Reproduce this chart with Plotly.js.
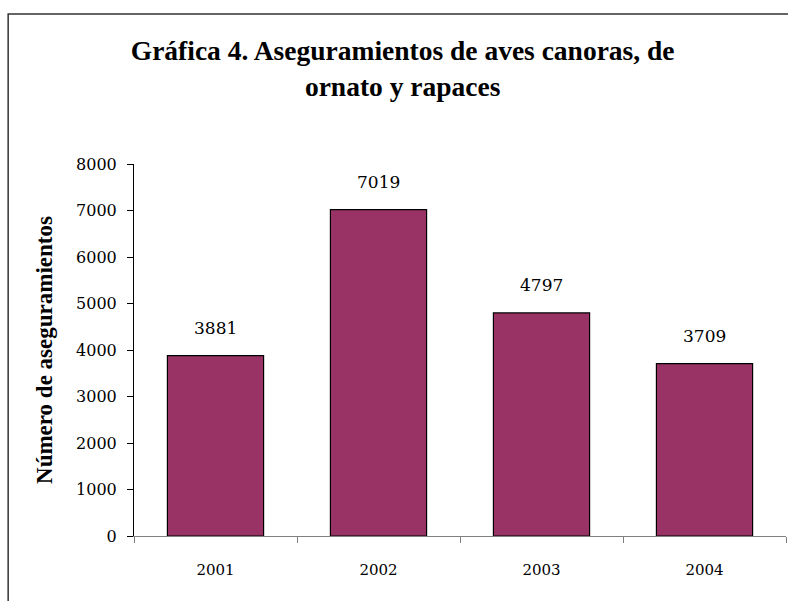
<!DOCTYPE html>
<html>
<head>
<meta charset="utf-8">
<script src="https://cdn.plot.ly/plotly-3.0.1.min.js"></script>
<style>html,body{margin:0;padding:0;background:#fff;}#chart{width:788px;height:601px;}</style>
</head>
<body>
<div id="chart"></div>
<script>
var years = ["2001", "2002", "2003", "2004"];
var values = [3881, 7019, 4797, 3709];
var yTicks = [0, 1000, 2000, 3000, 4000, 5000, 6000, 7000, 8000];

var trace = {
  type: "bar",
  x: years,
  y: values,
  marker: { color: "#993366", line: { color: "#000000", width: 1.2 } },
  hoverinfo: "x+y",
  showlegend: false
};

var annotations = years.map(function (yr, i) {
  return {
    x: i, y: values[i], xref: "x", yref: "y",
    text: String(values[i]), showarrow: false,
    yanchor: "bottom", yshift: 16,
    font: { family: "DejaVu Serif", size: 17, color: "#000" }
  };
});

var layout = {
  width: 788, height: 601,
  margin: { l: 134, r: 2, t: 164, b: 65 },
  paper_bgcolor: "#ffffff", plot_bgcolor: "#ffffff",
  bargap: 0.41,
  title: {
    text: "Gráfica 4. Aseguramientos de aves canoras, de<br>ornato y rapaces",
    font: { family: "Liberation Serif", size: 27.5, color: "#000", weight: "bold" },
    x: 0.511, xref: "container", xanchor: "center",
    y: 0.9, yref: "container", yanchor: "top"
  },
  xaxis: {
    type: "category",
    categoryorder: "array", categoryarray: years,
    range: [-0.5, 3.5],
    showline: true, linecolor: "#808080", linewidth: 1,
    ticks: "outside", tickson: "boundaries", ticklen: 6, tickcolor: "#808080",
    tickangle: 0,
    ticklabelstandoff: 20,
    tickfont: { family: "DejaVu Serif", size: 15, color: "#000" },
    showgrid: false, zeroline: false
  },
  yaxis: {
    range: [0, 8000],
    tickvals: yTicks,
    ticktext: yTicks.map(String),
    showline: true, linecolor: "#000000", linewidth: 1,
    ticks: "outside", ticklen: 6, tickcolor: "#000",
    ticklabelstandoff: 7,
    tickfont: { family: "DejaVu Serif", size: 16, color: "#000" },
    showgrid: false, zeroline: false,
    title: {
      text: "Número de aseguramientos",
      font: { family: "Liberation Serif", size: 23, color: "#000", weight: "bold" },
      standoff: 17
    }
  },
  annotations: annotations,
  shapes: [{
    type: "rect", xref: "paper", yref: "paper",
    x0: -0.193, x1: 1.2, y0: -0.4, y1: 1.403,
    line: { color: "#333333", width: 1.5 }, fillcolor: "rgba(0,0,0,0)", layer: "below"
  }]
};

Plotly.newPlot("chart", [trace], layout, { displayModeBar: false, staticPlot: true });
</script>
</body>
</html>
